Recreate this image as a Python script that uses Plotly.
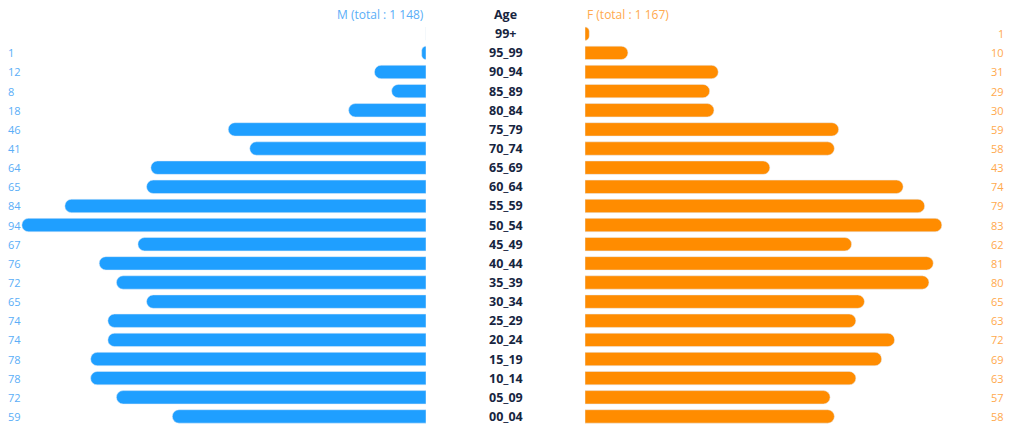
import plotly.graph_objects as go

ages = ["99+", "95_99", "90_94", "85_89", "80_84", "75_79", "70_74", "65_69", "60_64",
        "55_59", "50_54", "45_49", "40_44", "35_39", "30_34", "25_29", "20_24",
        "15_19", "10_14", "05_09", "00_04"]
male = [0, 1, 12, 8, 18, 46, 41, 64, 65, 84, 94, 67, 76, 72, 65, 74, 74, 78, 78, 72, 59]
female = [1, 10, 31, 29, 30, 59, 58, 43, 74, 79, 83, 62, 81, 80, 65, 63, 72, 69, 63, 57, 58]
male_total_label = "M (total : 1 148)"
female_total_label = "F (total : 1 167)"
age_header = "Age"

W, H = 1015, 426
BLUE = "#1F9FFF"
ORANGE = "#FF8C00"
BLUE_TXT = "#5AAEF7"
ORANGE_TXT = "#FFA94D"
NAVY = "#17253F"
FONT = "Segoe UI, Open Sans, sans-serif"

px_per_unit = 4.3
left_end = 426
right_start = 585

order = list(reversed(ages))  # bottom to top

fig = go.Figure()
fig.add_trace(go.Bar(
    y=ages, x=male, orientation="h", xaxis="x", yaxis="y",
    marker=dict(color=BLUE, cornerradius="50%"), showlegend=False, hoverinfo="x+y"))
fig.add_trace(go.Bar(
    y=ages, x=female, orientation="h", xaxis="x2", yaxis="y",
    marker=dict(color=ORANGE, cornerradius="50%"), showlegend=False, hoverinfo="x+y"))

annotations = []
for a, m, f in zip(ages, male, female):
    if m > 0:
        annotations.append(dict(x=6 / W, xref="paper", y=a, yref="y", text=str(m),
                                showarrow=False, xanchor="left",
                                font=dict(size=11, color=BLUE_TXT, family=FONT)))
    if f > 0:
        annotations.append(dict(x=1006 / W, xref="paper", y=a, yref="y", text=str(f),
                                showarrow=False, xanchor="right",
                                font=dict(size=11, color=ORANGE_TXT, family=FONT)))
    annotations.append(dict(x=505.5 / W, xref="paper", y=a, yref="y", text="<b>%s</b>" % a,
                            showarrow=False, xanchor="center",
                            font=dict(size=12.5, color=NAVY, family=FONT)))

head_y = (len(ages) + 0.5) / (len(ages) + 1)
annotations.append(dict(x=505.5 / W, xref="paper", y=head_y, yref="paper",
                        text="<b>%s</b>" % age_header, showarrow=False, xanchor="center",
                        yanchor="middle", font=dict(size=12.5, color=NAVY, family=FONT)))
annotations.append(dict(x=left_end / W, xref="paper", y=head_y, yref="paper",
                        text=male_total_label, showarrow=False, xanchor="right",
                        yanchor="middle", font=dict(size=12, color=BLUE_TXT, family=FONT)))
annotations.append(dict(x=right_start / W, xref="paper", y=head_y, yref="paper",
                        text=female_total_label, showarrow=False, xanchor="left",
                        yanchor="middle", font=dict(size=12, color=ORANGE_TXT, family=FONT)))

fig.update_layout(
    width=W, height=H,
    margin=dict(l=0, r=0, t=5, b=0),
    paper_bgcolor="white", plot_bgcolor="white",
    bargap=0.3,
    xaxis=dict(domain=[0, left_end / W], range=[left_end / px_per_unit, 0],
               visible=False, fixedrange=True),
    xaxis2=dict(domain=[right_start / W, 1], range=[0, (W - right_start) / px_per_unit],
                visible=False, fixedrange=True, anchor="y"),
    yaxis=dict(type="category", categoryorder="array", categoryarray=order,
               range=[-0.5, len(ages) + 0.5], visible=False, fixedrange=True),
    annotations=annotations,
    font=dict(family=FONT),
)

fig.write_html("out.html", config={"displayModeBar": False},
               post_script="document.body.style.margin='0px';document.body.style.overflow='hidden';")
